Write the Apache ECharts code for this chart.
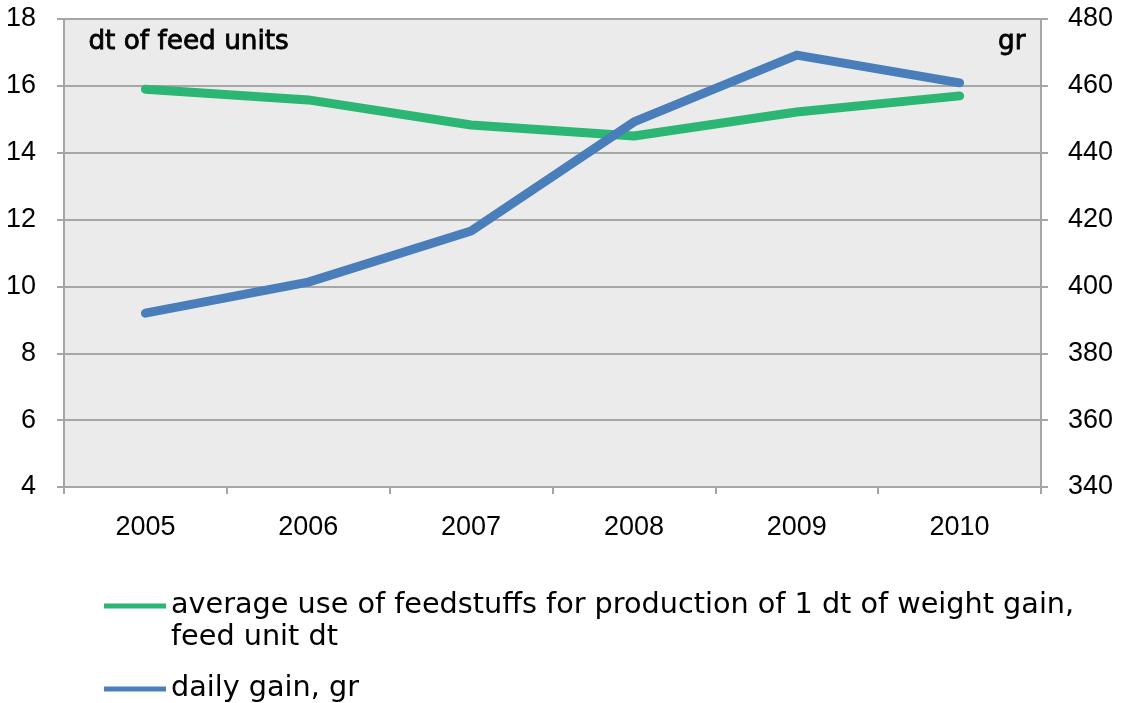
<!DOCTYPE html>
<html>
<head>
<meta charset="utf-8">
<script src="https://cdn.jsdelivr.net/npm/echarts@6/dist/echarts.min.js"></script>
<style>
  html, body { margin: 0; padding: 0; background: #fff; }
  #chart { width: 1122px; height: 703px; }
</style>
</head>
<body>
<div id="chart"></div>
<script>
// Years on the category axis
const years = ['2005', '2006', '2007', '2008', '2009', '2010'];
// Feed use per 1 dt of weight gain (dt of feed units) – left axis
const feedUse = [15.9, 15.58, 14.83, 14.5, 15.22, 15.7];
// Daily gain (gr) – right axis
const dailyGain = [392, 401.3, 416.6, 449.2, 469.2, 460.9];

const feedName = 'average use of feedstuffs for production of 1 dt of weight gain,\nfeed unit dt';
const gainName = 'daily gain, gr';

const NUM_FONT = 'Liberation Sans';
const TXT_FONT = 'DejaVu Sans';
const AXIS_GREY = '#a6a6a6';
const GREEN = '#2bb673';
const BLUE = '#4a7ebb';

const chart = echarts.init(document.getElementById('chart'), null, { renderer: 'canvas' });

const legendBase = {
  orient: 'vertical',
  left: 99,
  icon: 'rect',
  itemWidth: 62,
  itemHeight: 5,
  itemGap: 0,
  textStyle: { fontFamily: TXT_FONT, fontSize: 28.7, color: '#000', lineHeight: 32 }
};

// semi-bold look for the axis unit captions
const unitStyle = (text) => ({
  text: text,
  font: '26.3px "' + TXT_FONT + '"',
  fill: '#000',
  stroke: '#000',
  lineWidth: 0.8
});

chart.setOption({
  backgroundColor: '#ffffff',
  animation: false,
  grid: { left: 64, right: 81, top: 19, bottom: 216, show: true, backgroundColor: '#ebebeb', borderWidth: 0 },
  graphic: [
    { type: 'text', left: 88, top: 29, style: unitStyle('dt of feed units') },
    { type: 'text', right: 96, top: 29, style: unitStyle('gr') }
  ],
  legend: [
    // leading blank line keeps the icon level with the first text line
    Object.assign({}, legendBase, { data: [feedName], top: 553, formatter: n => '\n' + n }),
    Object.assign({}, legendBase, { data: [gainName], top: 668 })
  ],
  xAxis: {
    type: 'category',
    data: years,
    boundaryGap: true,
    axisLine: { lineStyle: { color: AXIS_GREY, width: 2 } },
    axisTick: { show: true, length: 7, lineStyle: { color: AXIS_GREY, width: 2 } },
    axisLabel: { fontFamily: NUM_FONT, fontSize: 27, color: '#000', margin: 27 },
    splitLine: { show: false }
  },
  yAxis: [
    {
      type: 'value', min: 4, max: 18, interval: 2, position: 'left',
      axisLine: { show: true, lineStyle: { color: AXIS_GREY, width: 2 } },
      axisTick: { show: true, length: 7, lineStyle: { color: AXIS_GREY, width: 2 } },
      axisLabel: { fontFamily: NUM_FONT, fontSize: 27, color: '#000', margin: 28 },
      splitLine: { show: true, lineStyle: { color: AXIS_GREY, width: 2 } }
    },
    {
      type: 'value', min: 340, max: 480, interval: 20, position: 'right',
      axisLine: { show: true, lineStyle: { color: AXIS_GREY, width: 2 } },
      axisTick: { show: true, length: 7, lineStyle: { color: AXIS_GREY, width: 2 } },
      axisLabel: { fontFamily: NUM_FONT, fontSize: 27, color: '#000', margin: 27 },
      splitLine: { show: false }
    }
  ],
  series: [
    {
      name: feedName, type: 'line', yAxisIndex: 0, data: feedUse,
      symbol: 'none', color: GREEN,
      lineStyle: { width: 9, cap: 'round', join: 'round' }
    },
    {
      name: gainName, type: 'line', yAxisIndex: 1, data: dailyGain,
      symbol: 'none', color: BLUE,
      lineStyle: { width: 9, cap: 'round', join: 'round' }
    }
  ]
});
</script>
</body>
</html>
